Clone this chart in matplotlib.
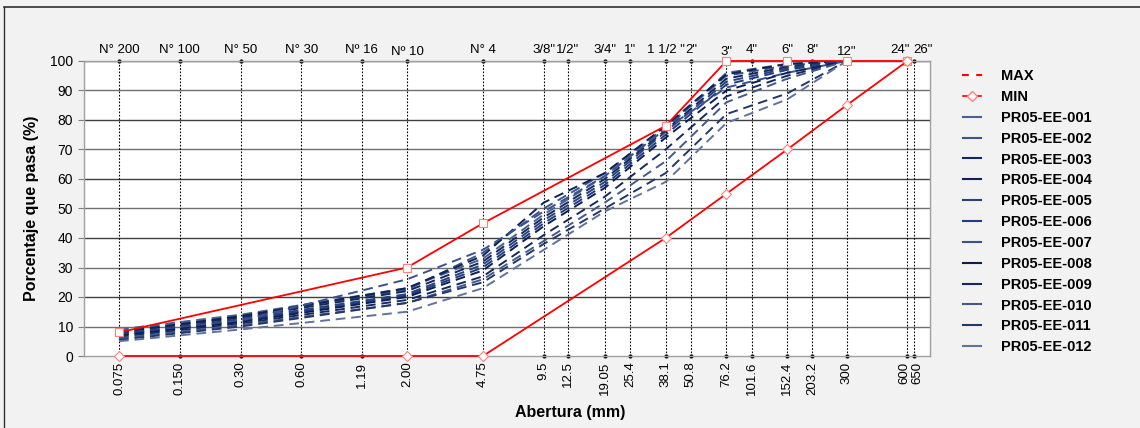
import matplotlib
matplotlib.use("Agg")
import matplotlib.pyplot as plt
import matplotlib.transforms as mtrans
from matplotlib.lines import Line2D

plt.rcParams['font.family'] = ['Liberation Sans', 'DejaVu Sans']

# Sieve openings (mm) and labels
sieve_mm = [0.075, 0.150, 0.30, 0.60, 1.19, 2.00, 4.75, 9.5, 12.5, 19.05, 25.4,
            38.1, 50.8, 76.2, 101.6, 152.4, 203.2, 300, 600, 650]
sieve_mm_labels = ['0.075', '0.150', '0.30', '0.60', '1.19', '2.00', '4.75', '9.5',
                   '12.5', '19.05', '25.4', '38.1', '50.8', '76.2', '101.6', '152.4',
                   '203.2', '300', '600', '650']
sieve_names = ['N° 200', 'N° 100', 'N° 50', 'N° 30', 'Nº 16', 'Nº 10', 'N° 4', '3/8"',
               '1/2"', '3/4"', '1"', '1 1/2 "', '2"', '3"', '4"', '6"', '8"', '12"',
               '24"', '26"']

# Envelope
max_x = [0.075, 2.00, 4.75, 38.1, 76.2, 152.4, 300, 600]
max_y = [8, 30, 45, 78, 100, 100, 100, 100]
min_x = [0.075, 2.00, 4.75, 38.1, 76.2, 152.4, 300, 600]
min_y = [0, 0, 0, 40, 55, 70, 85, 100]

# Samples
sample_x = [0.075, 0.30, 2.00, 4.75, 9.5, 19.05, 38.1, 76.2, 152.4, 300]
sample_names = ['PR05-EE-001', 'PR05-EE-002', 'PR05-EE-003', 'PR05-EE-004',
                'PR05-EE-005', 'PR05-EE-006', 'PR05-EE-007', 'PR05-EE-008',
                'PR05-EE-009', 'PR05-EE-010', 'PR05-EE-011', 'PR05-EE-012']
s001 = [9.0, 14.0, 23.0, 33, 48, 61, 77.0, 96.0, 99.0, 100]
s002 = [8.5, 13.5, 22.5, 35, 50, 62, 77.5, 95.0, 98.5, 100]
s003 = [8.0, 13.0, 22.0, 32, 47, 60, 76.5, 94.0, 98.0, 100]
s004 = [8.0, 13.5, 23.0, 34, 52, 62, 78.0, 95.5, 99.0, 100]
s005 = [7.5, 12.5, 21.0, 31, 46, 59, 76.0, 93.0, 97.5, 100]
s006 = [7.5, 12.0, 20.5, 30, 45, 58, 75.0, 92.0, 97.0, 100]
s007 = [7.0, 12.0, 26.0, 36, 49, 61, 77.0, 91.0, 96.0, 100]
s008 = [7.0, 11.5, 20.0, 29, 44, 57, 74.0, 90.0, 96.0, 100]
s009 = [6.5, 11.0, 19.0, 27, 41, 54, 70.0, 88.0, 95.0, 100]
s010 = [6.0, 10.5, 18.0, 26, 39, 52, 66.0, 86.0, 94.0, 100]
s011 = [5.5, 10.0, 18.0, 25, 38, 50, 62.0, 82.0, 89.0, 100]
s012 = [5.0, 9.0, 15.0, 23, 36, 49, 59.0, 79.0, 87.0, 100]
samples = [s001, s002, s003, s004, s005, s006, s007, s008, s009, s010, s011, s012]
sample_colors = ['#4a6090', '#3d5588', '#14285c', '#0f2256', '#2a4278', '#1f3c86',
                 '#3a5290', '#0c1f50', '#16295e', '#44598a', '#22386a', '#60739c']

fig = plt.figure(figsize=(11.4, 4.28), dpi=100, facecolor='#f2f2f2')
ax = fig.add_axes([84/1140, 1-356/428, (930-84)/1140, (356-61)/428])
ax.set_facecolor('white')
ax.set_xscale('log')
ax.set_xlim(0.0503, 776)
ax.set_ylim(0, 100)

# horizontal grid
for yv in range(10, 101, 10):
    ax.axhline(yv, color='#404040' if yv % 20 == 0 else '#707070', lw=1.0, zorder=1)
# vertical dotted sieve lines
for xv in sieve_mm:
    ax.axvline(xv, color='black', lw=0.8, ls=(0, (1.5, 1.5)), zorder=1)
ax.plot(sieve_mm, [100]*len(sieve_mm), 'k.', ms=4, clip_on=False, zorder=2)
ax.plot(sieve_mm, [0]*len(sieve_mm), 'k.', ms=4, clip_on=False, zorder=2)

handles = []
for ys, nm, c in zip(samples, sample_names, sample_colors):
    ax.plot(sample_x, ys, color=c, lw=1.4, ls=(0, (5, 3)), zorder=3)
    handles.append(Line2D([0], [0], color=c, lw=1.5, label=nm))

ax.plot(max_x, max_y, color='red', lw=1.3, marker='s', ms=6, mfc='white',
        mec='#ff8080', mew=0.8, zorder=4, clip_on=False)
ax.plot(min_x, min_y, color='red', lw=1.3, marker='D', ms=5, mfc='white',
        mec='#ff8080', mew=0.8, zorder=4, clip_on=False)
h_max = Line2D([0], [0], color='red', lw=1.5, marker='s', ms=5,
               mfc='white', mec='white', label='MAX')
h_min = Line2D([0], [0], color='red', lw=1.2, marker='D', ms=5, mfc='white',
               mec='#ff8080', label='MIN')

ax.set_xticks(sieve_mm)
ax.set_xticklabels(sieve_mm_labels, rotation=90, fontsize=9.5)
ax.xaxis.set_minor_locator(matplotlib.ticker.NullLocator())
ax.tick_params(axis='x', length=0, pad=4)
ax.set_yticks(range(0, 101, 10))
ax.tick_params(axis='y', labelsize=10, length=4, color='#808080', pad=4)

# separate the two crowded bottom labels
xlabels = ax.get_xticklabels()
for lab, dx in ((xlabels[-2], -3), (xlabels[-1], 3)):
    lab.set_transform(lab.get_transform() +
                      mtrans.ScaledTranslation(dx/100, 0, fig.dpi_scale_trans))

for xv, nm in zip(sieve_mm, sieve_names):
    dy = -0.8 if nm in ('Nº 10', '3"', '12"') else 0
    dx = {'24"': -7, '26"': 9}.get(nm, 0)
    t = ax.text(xv, 101.8 + dy, nm, ha='center', va='bottom', fontsize=9.5)
    if dx:
        t.set_transform(ax.transData +
                        mtrans.ScaledTranslation(dx/100, 0, fig.dpi_scale_trans))

for s in ax.spines.values():
    s.set_color('#a0a0a0')
    s.set_linewidth(1.0)

ax.set_ylabel('Porcentaje que pasa (%)', fontsize=11.5, fontweight='bold', labelpad=8)
fig.text(570/1140, 1-412/428, 'Abertura (mm)', ha='center', va='center',
         fontsize=11.5, fontweight='bold')

fig.legend(handles=[h_max, h_min] + handles, loc='upper left',
           bbox_to_anchor=(950/1140, 1-56/428), frameon=False,
           prop={'weight': 'bold', 'size': 10.5}, handlelength=1.2,
           handletextpad=1.4, labelspacing=0.47)

# figure frame
fig.add_artist(Line2D([4/1140, 1], [1-7/428, 1-7/428], color='#303030', lw=1.2,
                      transform=fig.transFigure))
fig.add_artist(Line2D([4/1140, 4/1140], [0, 1-7/428], color='#303030', lw=1.0,
                      transform=fig.transFigure))

fig.savefig('out.png', dpi=100, facecolor=fig.get_facecolor())
